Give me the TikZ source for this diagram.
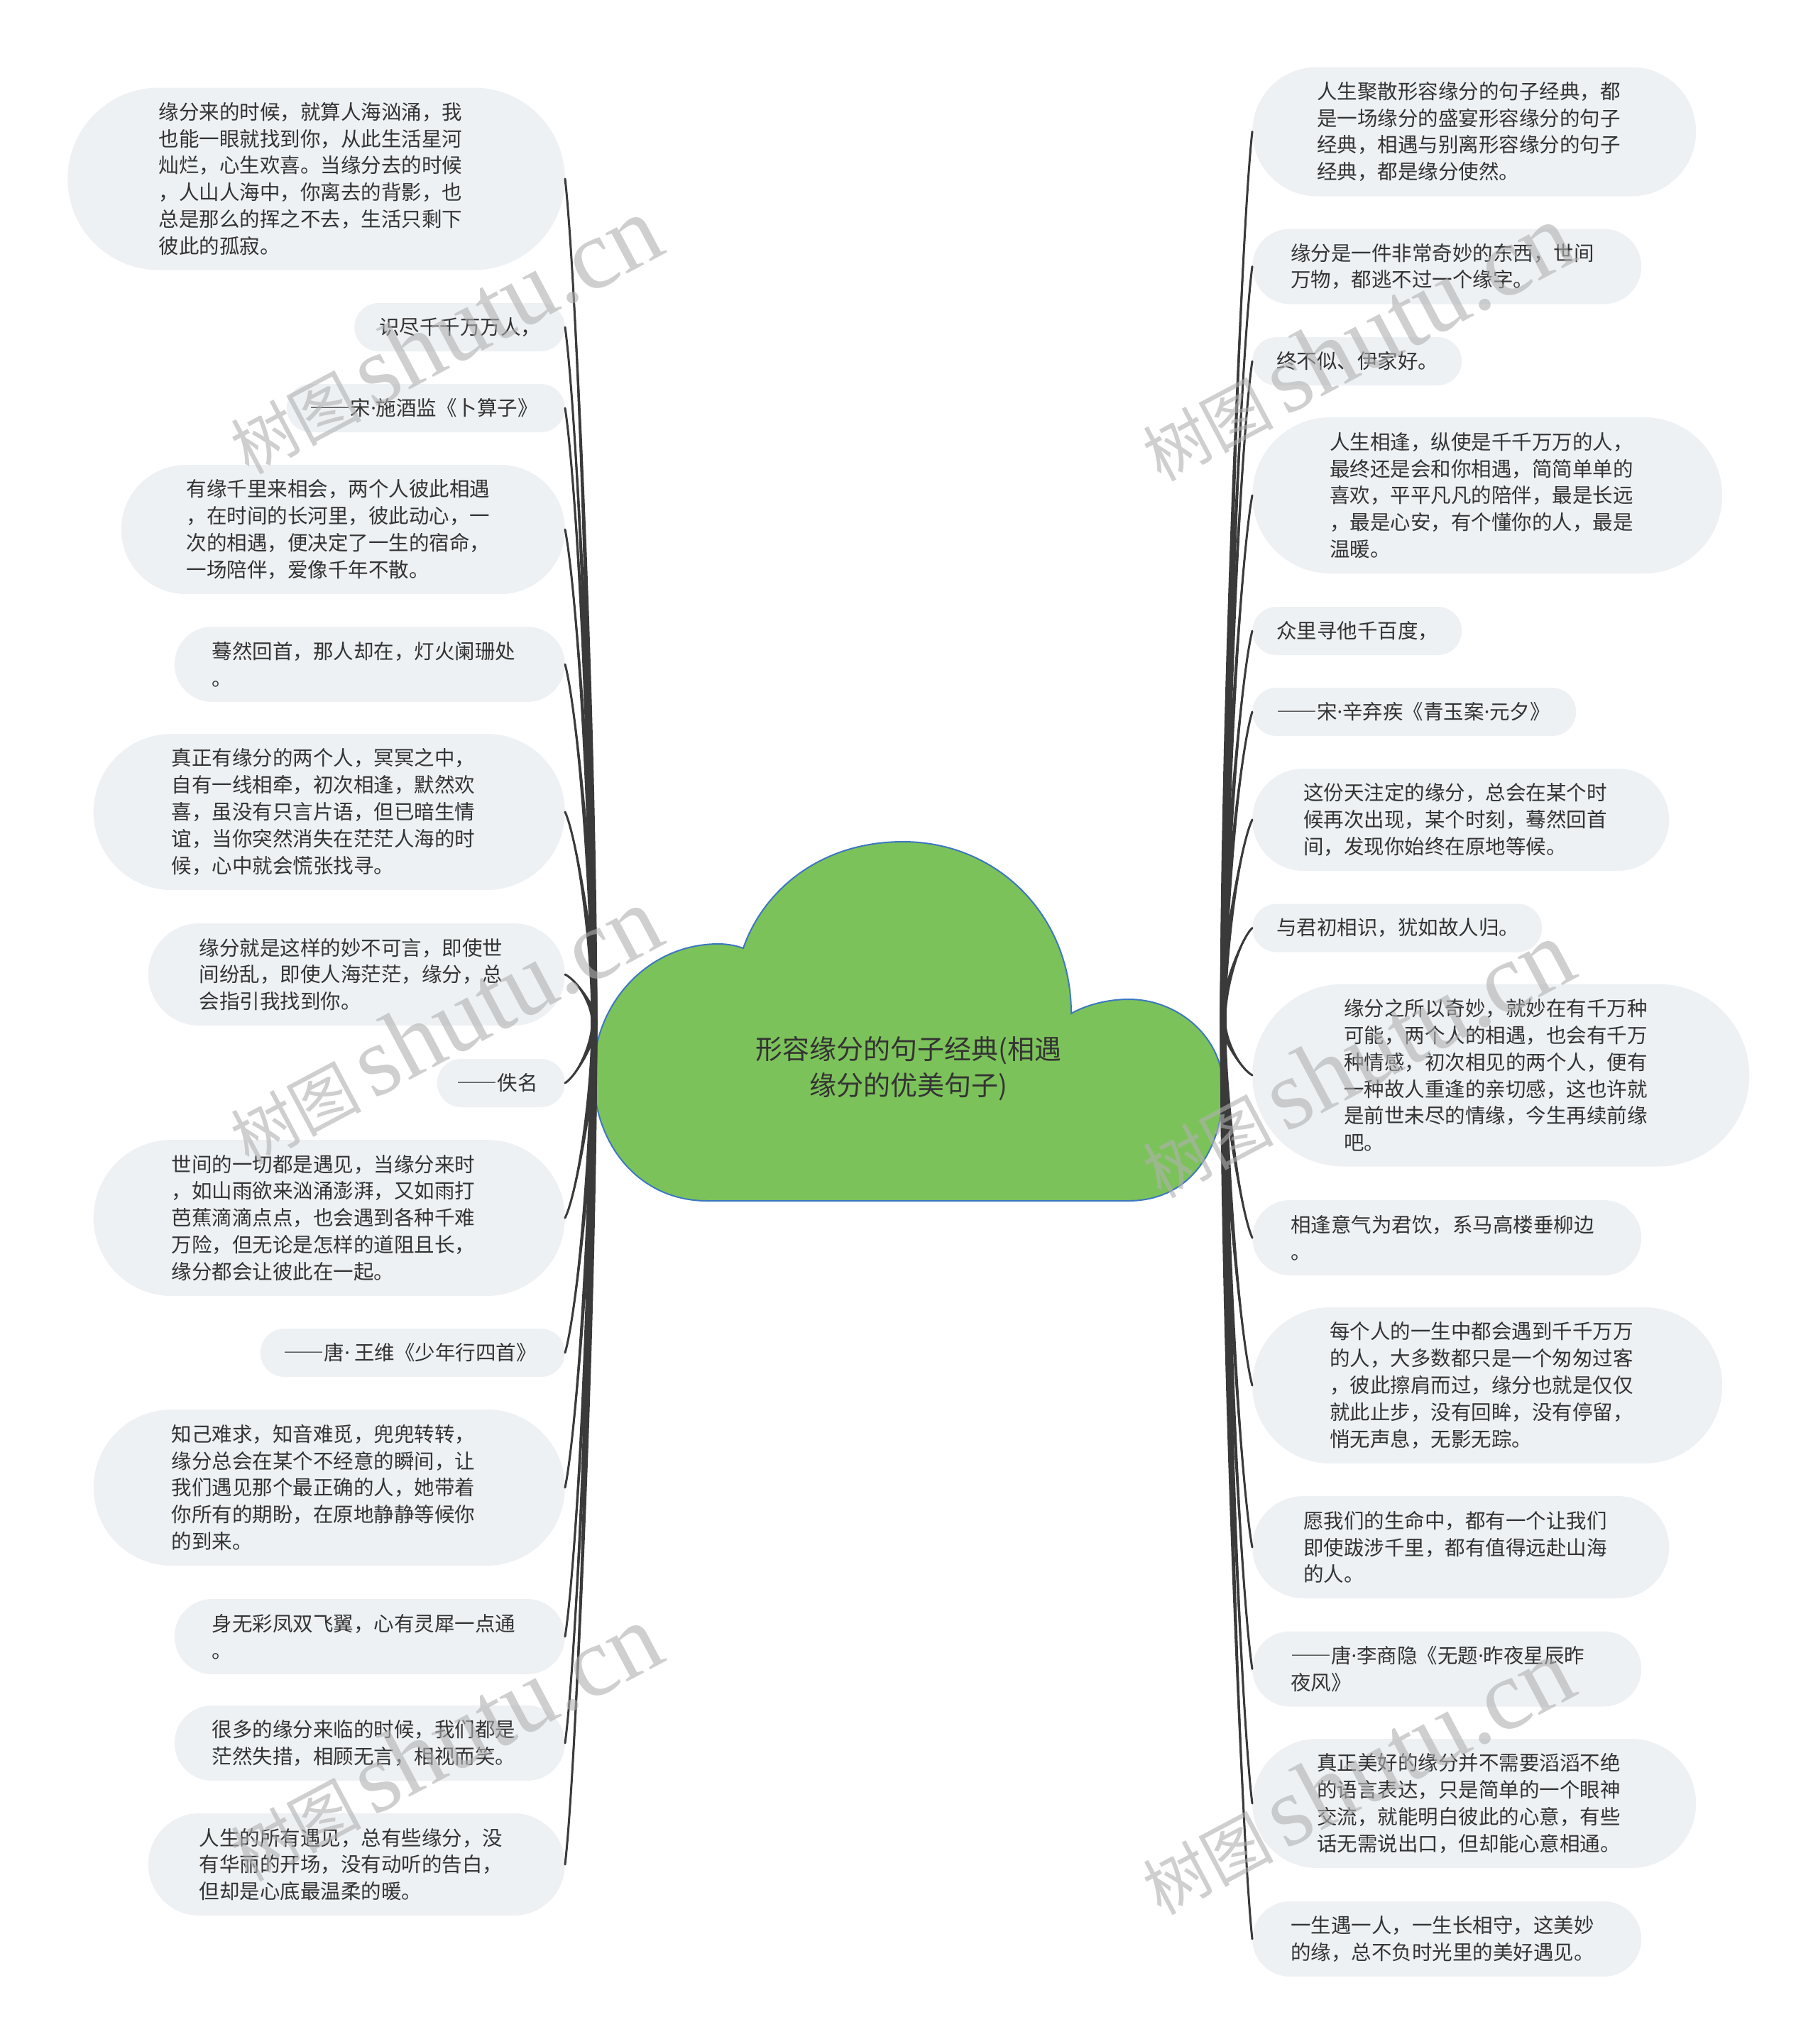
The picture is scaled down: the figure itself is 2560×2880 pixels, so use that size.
\documentclass[tikz,border=0pt]{standalone}
\usepackage{fontspec}
\setmainfont{Noto Sans CJK SC}
\newfontfamily\wmlatfont{Liberation Serif}
\newfontfamily\latfont{Noto Sans}
\newcommand{\md}{{\latfont ·}}
\newcommand{\dd}{{\addfontfeatures{RawFeature=+fwid}——}}
\usetikzlibrary{calc}
\definecolor{bubcol}{HTML}{EEF1F4}
\definecolor{txtcol}{HTML}{333333}
\definecolor{conncol}{HTML}{3A3A3A}
\definecolor{cloudfill}{HTML}{7CC25A}
\definecolor{cloudline}{HTML}{3C78C0}
\definecolor{wmcol}{HTML}{B0B0B0}
\newcommand{\bt}[3]{\hspace*{#1pt}\begin{minipage}[c]{#2pt}\raggedright #3\end{minipage}}
\newcommand{\tconn}[2]{%
 \fill[conncol] let \p1=(#1), \p2=(#2) in
  ({\x1-4.5pt},{\y1}) .. controls ({\x1-3.8pt},{\y1+0.35*(\y2-\y1)}) and ({\x2-0.4*(\x2-\x1)-1.2pt},{\y2-0.12*(\y2-\y1)}) .. ({\x2-0.3pt},{\y2})
  -- ({\x2+0.3pt},{\y2}) .. controls ({\x2-0.4*(\x2-\x1)+1.2pt},{\y2-0.12*(\y2-\y1)}) and ({\x1+3.8pt},{\y1+0.35*(\y2-\y1)}) .. ({\x1+4.5pt},{\y1}) -- cycle;
 \draw[conncol, line width=3pt, line cap=round] let \p1=(#1), \p2=(#2) in
  (\p1) .. controls ({\x1},{\y1+0.35*(\y2-\y1)}) and ({\x2-0.4*(\x2-\x1)},{\y2-0.12*(\y2-\y1)}) .. (\p2);}
\tikzset{
 bub/.style={rectangle, fill=bubcol, inner sep=0pt, text=txtcol, font=\fontsize{28.5pt}{37.8pt}\selectfont},
 bA/.style={bub, minimum height=68pt, rounded corners=34pt},
 bB/.style={bub, minimum height=106pt, rounded corners=53pt},
 bC/.style={bub, minimum height=144pt, rounded corners=72pt},
 bD/.style={bub, minimum height=182pt, rounded corners=91pt},
 bE/.style={bub, minimum height=220pt, rounded corners=110pt},
 bF/.style={bub, minimum height=257pt, rounded corners=128.5pt},
 lb/.style={anchor=east},
 rb/.style={anchor=west},
 wm/.style={rotate=28, anchor=base west, text=wmcol, opacity=0.6, inner sep=0pt},
}
\begin{document}
\begin{tikzpicture}[x=1pt,y=-1pt]
\useasboundingbox (0,0) rectangle (2560,2880);
\fill[white] (0,0) rectangle (2560,2880);

% central cloud
\filldraw[fill=cloudfill, draw=cloudline, line width=2pt]
 (996,1692) -- (1589,1692)
 .. controls (1680,1692) and (1723,1615) .. (1723,1533)
 .. controls (1723,1462) and (1660,1408) .. (1590,1408)
 .. controls (1560,1408) and (1530,1416) .. (1509,1428)
 .. controls (1509,1290) and (1405,1186) .. (1272,1186)
 .. controls (1155,1186) and (1075,1255) .. (1047,1336)
 .. controls (1036,1332) and (1024,1330) .. (1012,1330)
 .. controls (912,1330) and (836,1415) .. (836,1514)
 .. controls (836,1612) and (900,1692) .. (996,1692) -- cycle;
\node[text=txtcol, align=center, font=\fontsize{38pt}{51pt}\selectfont] (C) at (1280,1506) {形容缘分的句子经典(相遇\\缘分的优美句子)};
\coordinate (hl) at (837,1440);
\coordinate (hr) at (1723,1438);

% left nodes
\node[bF,lb] (L1) at (796,252) {\bt{128.5}{572}{缘分来的时候，就算人海汹涌，我\\也能一眼就找到你，从此生活星河\\灿烂，心生欢喜。当缘分去的时候\\，人山人海中，你离去的背影，也\\总是那么的挥之不去，生活只剩下\\彼此的孤寂。}};
\node[bA,lb] (L2) at (796,461) {\bt{35}{261.5}{识尽千千万万人，}};
\node[bA,lb] (L3) at (796,575) {\bt{33}{359}{\dd 宋\md 施酒监《卜算子》}};
\node[bD,lb] (L4) at (796,746) {\bt{92}{533}{有缘千里来相会，两个人彼此相遇\\，在时间的长河里，彼此动心，一\\次的相遇，便决定了一生的宿命，\\一场陪伴，爱像千年不散。}};
\node[bB,lb] (L5) at (796,936) {\bt{53}{497}{蓦然回首，那人却在，灯火阑珊处\\。}};
\node[bE,lb] (L6) at (796,1144) {\bt{110}{554}{真正有缘分的两个人，冥冥之中，\\自有一线相牵，初次相逢，默然欢\\喜，虽没有只言片语，但已暗生情\\谊，当你突然消失在茫茫人海的时\\候，心中就会慌张找寻。}};
\node[bC,lb] (L7) at (796,1373) {\bt{72}{515}{缘分就是这样的妙不可言，即使世\\间纷乱，即使人海茫茫，缘分，总\\会指引我找到你。}};
\node[bA,lb] (L8) at (796,1526) {\bt{28}{152}{\dd 佚名}};
\node[bE,lb] (L9) at (796,1716) {\bt{110}{554}{世间的一切都是遇见，当缘分来时\\，如山雨欲来汹涌澎湃，又如雨打\\芭蕉滴滴点点，也会遇到各种千难\\万险，但无论是怎样的道阻且长，\\缘分都会让彼此在一起。}};
\node[bA,lb] (L10) at (796,1906) {\bt{33}{396}{\dd 唐\md\ 王维《少年行四首》}};
\node[bE,lb] (L11) at (796,2096) {\bt{110}{554}{知己难求，知音难觅，兜兜转转，\\缘分总会在某个不经意的瞬间，让\\我们遇见那个最正确的人，她带着\\你所有的期盼，在原地静静等候你\\的到来。}};
\node[bB,lb] (L12) at (796,2306) {\bt{53}{497}{身无彩凤双飞翼，心有灵犀一点通\\。}};
\node[bB,lb] (L13) at (796,2456) {\bt{53}{497}{很多的缘分来临的时候，我们都是\\茫然失措，相顾无言，相视而笑。}};
\node[bC,lb] (L14) at (796,2627) {\bt{72}{515}{人生的所有遇见，总有些缘分，没\\有华丽的开场，没有动听的告白，\\但却是心底最温柔的暖。}};

% right nodes
\node[bD,rb] (R1) at (1764,185.5) {\bt{91}{534}{人生聚散形容缘分的句子经典，都\\是一场缘分的盛宴形容缘分的句子\\经典，相遇与别离形容缘分的句子\\经典，都是缘分使然。}};
\node[bB,rb] (R2) at (1764,375.5) {\bt{54}{494}{缘分是一件非常奇妙的东西，世间\\万物，都逃不过一个缘字。}};
\node[bA,rb] (R3) at (1764,509) {\bt{34}{261}{终不似、伊家好。}};
\node[bE,rb] (R4) at (1764,698) {\bt{109}{553}{人生相逢，纵使是千千万万的人，\\最终还是会和你相遇，简简单单的\\喜欢，平平凡凡的陪伴，最是长远\\，最是心安，有个懂你的人，最是\\温暖。}};
\node[bA,rb] (R5) at (1764,889) {\bt{34}{261}{众里寻他千百度，}};
\node[bA,rb] (R6) at (1764,1003) {\bt{34}{422}{\dd 宋\md 辛弃疾《青玉案\md 元夕》}};
\node[bC,rb] (R7) at (1764,1155) {\bt{72}{515}{这份天注定的缘分，总会在某个时\\候再次出现，某个时刻，蓦然回首\\间，发现你始终在原地等候。}};
\node[bA,rb] (R8) at (1764,1307.5) {\bt{34}{374}{与君初相识，犹如故人归。}};
\node[bF,rb] (R9) at (1764,1515) {\bt{129}{571}{缘分之所以奇妙，就妙在有千万种\\可能，两个人的相遇，也会有千万\\种情感，初次相见的两个人，便有\\一种故人重逢的亲切感，这也许就\\是前世未尽的情缘，今生再续前缘\\吧。}};
\node[bB,rb] (R10) at (1764,1744) {\bt{54}{494}{相逢意气为君饮，系马高楼垂柳边\\。}};
\node[bE,rb] (R11) at (1764,1952) {\bt{109}{553}{每个人的一生中都会遇到千千万万\\的人，大多数都只是一个匆匆过客\\，彼此擦肩而过，缘分也就是仅仅\\就此止步，没有回眸，没有停留，\\悄无声息，无影无踪。}};
\node[bC,rb] (R12) at (1764,2180) {\bt{72}{515}{愿我们的生命中，都有一个让我们\\即使跋涉千里，都有值得远赴山海\\的人。}};
\node[bB,rb] (R13) at (1764,2351.5) {\bt{54}{494}{\dd 唐\md 李商隐《无题\md 昨夜星辰昨\\夜风》}};
\node[bD,rb] (R14) at (1764,2541) {\bt{91}{534}{真正美好的缘分并不需要滔滔不绝\\的语言表达，只是简单的一个眼神\\交流，就能明白彼此的心意，有些\\话无需说出口，但却能心意相通。}};
\node[bB,rb] (R15) at (1764,2732) {\bt{54}{494}{一生遇一人，一生长相守，这美妙\\的缘，总不负时光里的美好遇见。}};

% connectors
\foreach \nd in {L1,L2,L3,L4,L5,L6,L7,L8,L9,L10,L11,L12,L13,L14} {\tconn{hl}{\nd.east}}
\foreach \nd in {R1,R2,R3,R4,R5,R6,R7,R8,R9,R10,R11,R12,R13,R14,R15} {\tconn{hr}{\nd.west}}

% watermarks
\foreach \i/\wx/\wy in {1/350/670, 2/350/1643, 3/350/2653, 4/1635/680, 5/1635/1690, 6/1635/2700} {
 \node[wm] (wm\i) at (\wx,\wy) {{\fontsize{92pt}{92pt}\selectfont 树图}\hspace{16pt}{\fontsize{140pt}{140pt}\wmlatfont shutu.cn}};
}
\end{tikzpicture}
\end{document}
